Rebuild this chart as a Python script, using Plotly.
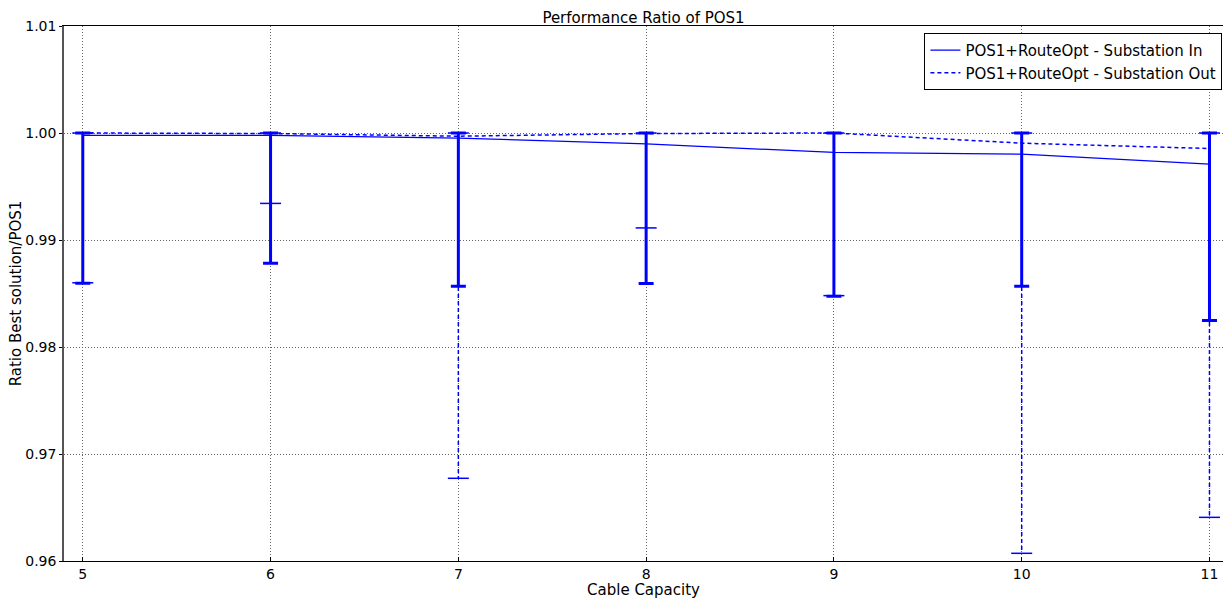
import plotly.graph_objects as go

capacity = [5, 6, 7, 8, 9, 10, 11]

# Substation In (solid)
in_mean = [0.99978, 0.99978, 0.99953, 0.99898, 0.99818, 0.99803, 0.99710]
in_upper = [1.0, 1.0, 1.0, 1.0, 1.0, 1.0, 1.0]
in_lower = [0.98596, 0.98783, 0.98568, 0.98593, 0.98475, 0.98568, 0.98248]

# Substation Out (dashed)
out_mean = [1.0, 0.99995, 0.99970, 0.99995, 1.0, 0.99905, 0.99855]
out_upper = [1.0, 1.0, 1.0, 1.0, 1.0, 1.0, 1.0]
out_lower = [0.98600, 0.99342, 0.96773, 0.99113, 0.98480, 0.96072, 0.96408]

yticks = [0.96, 0.97, 0.98, 0.99, 1.00, 1.01]
ytick_text = ["0.96", "0.97", "0.98", "0.99", "1.00", "1.01"]

BLUE = "#0000ff"
FONT = "DejaVu Sans"
FS = 15
TFS = 14

fig = go.Figure()

# Dashed error bars for Substation Out (stems)
seg_x, seg_y = [], []
for x, lo, hi in zip(capacity, out_lower, out_upper):
    seg_x += [x, x, None]
    seg_y += [hi, lo, None]
fig.add_trace(go.Scatter(x=seg_x, y=seg_y, mode="lines",
                         line=dict(color=BLUE, width=1.5, dash="4px,3px"),
                         showlegend=False, hoverinfo="skip"))
# caps
fig.add_trace(go.Scatter(x=capacity + capacity, y=out_lower + out_upper, mode="markers",
                         marker=dict(symbol="line-ew", size=15,
                                     line=dict(color=BLUE, width=1.5)),
                         showlegend=False, hoverinfo="skip"))

# Solid series with thick error bars
fig.add_trace(go.Scatter(
    x=capacity, y=in_mean, mode="lines",
    name="POS1+RouteOpt - Substation In",
    line=dict(color=BLUE, width=1.2),
    error_y=dict(type="data", symmetric=False,
                 array=[u - m for u, m in zip(in_upper, in_mean)],
                 arrayminus=[m - l for m, l in zip(in_mean, in_lower)],
                 thickness=3, width=7.5, color=BLUE),
))

fig.add_trace(go.Scatter(
    x=capacity, y=out_mean, mode="lines",
    name="POS1+RouteOpt - Substation Out",
    line=dict(color=BLUE, width=1.5, dash="4px,3px"),
))

GRID = dict(showgrid=True, gridcolor="#666666", griddash="1px,2px", gridwidth=1)

fig.update_layout(
    width=1224, height=599,
    margin=dict(l=64, r=1, t=26, b=38, autoexpand=False),
    paper_bgcolor="white", plot_bgcolor="white",
    font=dict(family=FONT, size=FS, color="black"),
    title=dict(text="Performance Ratio of POS1", x=0.5, xref="paper",
               y=1, yref="paper", yanchor="bottom", pad=dict(b=3),
               font=dict(family=FONT, size=FS, color="black")),
    showlegend=True,
    legend=dict(x=0.9995, xanchor="right", y=0.987, yanchor="top",
                bgcolor="white", bordercolor="black", borderwidth=1,
                font=dict(family=FONT, size=FS, color="black"),
                tracegroupgap=0),
    xaxis=dict(range=[4.9, 11.072], tickvals=capacity,
               ticktext=[str(c) for c in capacity], **GRID, automargin=False,
               zeroline=False, showline=True, linecolor="black", linewidth=1,
               mirror=True, ticks="inside", ticklen=4, tickcolor="black",
               tickfont=dict(family=FONT, size=TFS),
               title=dict(text="Cable Capacity", standoff=2,
                          font=dict(family=FONT, size=FS))),
    yaxis=dict(range=[0.96, 1.01], tickvals=yticks, ticktext=ytick_text, **GRID,
               automargin=False,
               zeroline=False, showline=True, linecolor="#555555", linewidth=1.5,
               ticks="outside", ticklen=3, tickcolor="black",
               tickfont=dict(family=FONT, size=TFS),
               title=dict(text="Ratio Best solution/POS1", standoff=0,
                          font=dict(family=FONT, size=FS))),
)

page_fix = ("document.body.style.margin='0';"
            "document.documentElement.style.overflow='hidden';"
            "document.body.style.overflow='hidden';")

fig.write_html("out.html", post_script=page_fix,
               config={"displayModeBar": False})
